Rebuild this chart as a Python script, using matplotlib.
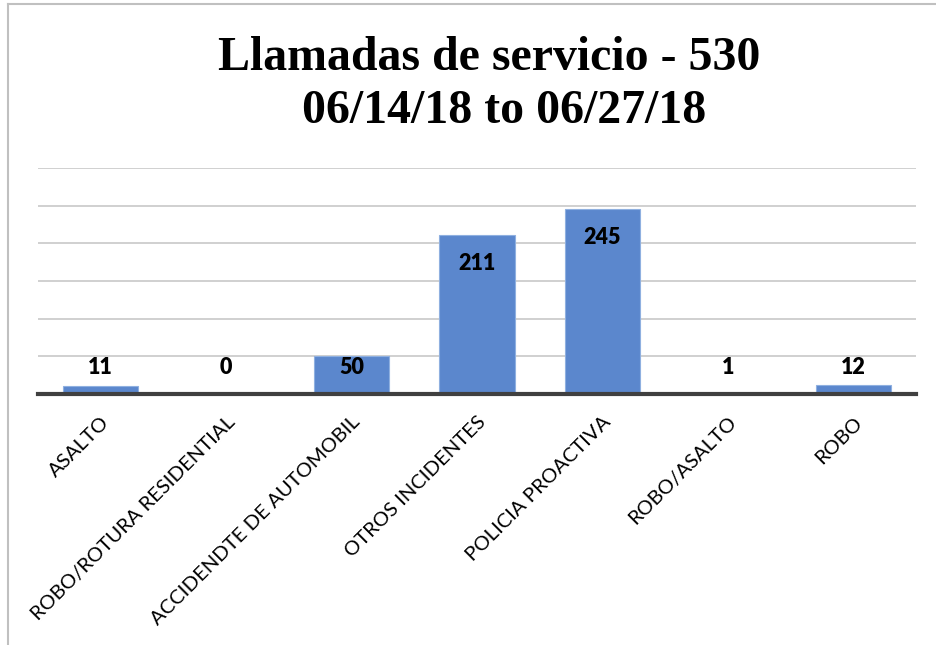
import matplotlib
matplotlib.use("Agg")
from matplotlib import pyplot as plt
from matplotlib.lines import Line2D

categories = ["ASALTO", "ROBO/ROTURA RESIDENTIAL", "ACCIDENDTE DE AUTOMOBIL",
              "OTROS INCIDENTES", "POLICIA PROACTIVA", "ROBO/ASALTO", "ROBO"]
values = [11, 0, 50, 211, 245, 1, 12]
title_lines = ["Llamadas de servicio - 530", "06/14/18 to 06/27/18"]

fig = plt.figure(figsize=(9.36, 6.45), dpi=100)
ax = fig.add_axes([0.0406, 0.3891, 0.938, 0.3504])

x = range(len(categories))
ax.bar(x, values, width=0.6, color="#5b87cd", edgecolor="#8fb0e0", linewidth=0.8, zorder=3)

ax.set_ylim(0, 300)
ax.set_xlim(-0.5, len(categories) - 0.5)
ax.set_yticks(range(50, 301, 50))
ax.yaxis.grid(True, color="#c8c8c8", linewidth=1.2, zorder=0)
ax.tick_params(axis="y", length=0, labelleft=False)
ax.tick_params(axis="x", length=0, pad=14)
for s in ["top", "right", "left"]:
    ax.spines[s].set_visible(False)
ax.spines["bottom"].set_color("#404040")
ax.spines["bottom"].set_linewidth(3)
ax.spines["bottom"].set_zorder(4)

ax.set_xticks(list(x))
ax.set_xticklabels(categories, rotation=45, ha="right", rotation_mode="anchor",
                   fontsize=14.6, family="Lato", color="#000000")

for i, v in enumerate(values):
    if v > 100:
        ax.annotate(str(v), (i, v), xytext=(0, -20.5), textcoords="offset points",
                    ha="center", va="center", fontsize=15.5, fontweight="heavy", family="Lato", zorder=5)
    else:
        ax.text(i, 34.6, str(v), ha="center", va="center", fontsize=15.5,
                fontweight="heavy", family="Lato", zorder=5)

fig.text(0.523, 1 - 70 / 645, title_lines[0], ha="center", va="baseline",
         fontsize=34.5, fontweight="bold", family="Liberation Serif")
fig.text(0.539, 1 - 123 / 645, title_lines[1], ha="center", va="baseline",
         fontsize=34.5, fontweight="bold", family="Liberation Serif")

# outer chart frame
fig.add_artist(Line2D([8 / 936, 8 / 936], [0, 1 - 4 / 645], transform=fig.transFigure,
                      color="#c0c0c0", linewidth=1.5))
fig.add_artist(Line2D([8 / 936, 1], [1 - 4 / 645, 1 - 4 / 645], transform=fig.transFigure,
                      color="#c0c0c0", linewidth=1.5))

fig.savefig("out.png", dpi=100)
